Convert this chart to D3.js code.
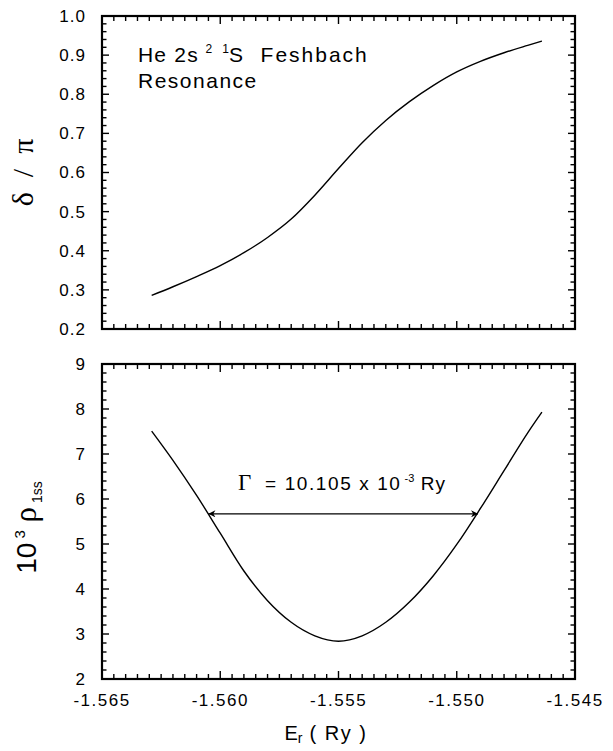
<!DOCTYPE html>
<html>
<head>
<meta charset="utf-8">
<script src="https://cdn.jsdelivr.net/npm/d3@7"></script>
<style>
  body { margin: 0; background: #fff; }
  text { white-space: pre; }
</style>
</head>
<body>
<div id="chart"></div>
<script>
// resonance energy (Ry)
const energy = [-1.5629, -1.562, -1.561, -1.560, -1.559, -1.558, -1.557, -1.556, -1.555,
                -1.554, -1.553, -1.552, -1.551, -1.550, -1.549, -1.548, -1.547, -1.5464]
// delta / pi
const phase = [0.286, 0.308, 0.334, 0.362, 0.395, 0.434, 0.481, 0.542, 0.610,
               0.676, 0.733, 0.781, 0.822, 0.857, 0.884, 0.906, 0.925, 0.936]
// 10^3 rho_1ss
const density = [7.51, 6.86, 6.08, 5.24, 4.40, 3.74, 3.26, 2.96, 2.84,
                 2.96, 3.26, 3.71, 4.29, 4.99, 5.79, 6.63, 7.47, 7.93]

const xTicks = [-1.565, -1.560, -1.555, -1.550, -1.545]
const phaseTicks = [0.2, 0.3, 0.4, 0.5, 0.6, 0.7, 0.8, 0.9, 1.0]
const densityTicks = [2, 3, 4, 5, 6, 7, 8, 9]
// width arrow (half maximum), in Ry and density units
const gammaEnds = [-1.5605, -1.5491]
const gammaLevel = 5.67

const svg_width = 613
const svg_height = 751
const left = 102
const right = 575
const top_panel = [16, 329]
const bottom_panel = [364, 679]

const svg = d3.select('#chart')
    .append('svg')
    .attr('width', svg_width)
    .attr('height', svg_height)
    .style('font-family', '"Liberation Sans", Arial, sans-serif')

const xScale = d3.scaleLinear()
    .domain([xTicks[0], xTicks[xTicks.length - 1]])
    .range([left, right])

const yPhase = d3.scaleLinear()
    .domain([0.2, 1.0])
    .range([top_panel[1], top_panel[0]])

const yDensity = d3.scaleLinear()
    .domain([2, 9])
    .range([bottom_panel[1], bottom_panel[0]])

// minor tick values
const xMinor = d3.range(0, 41).map(i => xTicks[0] + i * 0.0005)
const phaseMinor = d3.range(0, 41).map(i => 0.2 + i * 0.02)
const densityMinor = d3.range(0, 36).map(i => 2 + i * 0.2)

function isMajor (v, ticks) {
    return ticks.some(t => Math.abs(t - v) < 1e-9)
}

function drawPanel (yScale, yTicks, yMinor, yFormat, showX) {
    const [y0, y1] = yScale.range()
    const g = svg.append('g')

    // inward ticks, bottom and top edges
    const xt = xMinor.map(v => ({ v, len: isMajor(v, xTicks) ? 8 : 5 }))
    g.selectAll('.xb')
        .data(xt)
        .join('line')
            .attr('class', 'xb')
            .attr('x1', d => xScale(d.v))
            .attr('x2', d => xScale(d.v))
            .attr('y1', y0)
            .attr('y2', d => y0 - d.len)
            .attr('stroke', '#000')
            .attr('stroke-width', 1.4)
    g.selectAll('.xt')
        .data(xt)
        .join('line')
            .attr('class', 'xt')
            .attr('x1', d => xScale(d.v))
            .attr('x2', d => xScale(d.v))
            .attr('y1', y1)
            .attr('y2', d => y1 + d.len)
            .attr('stroke', '#000')
            .attr('stroke-width', 1.4)

    // inward ticks, left and right edges
    const yt = yMinor.map(v => ({ v, len: isMajor(v, yTicks) ? 7 : 4.5 }))
    g.selectAll('.yl')
        .data(yt)
        .join('line')
            .attr('class', 'yl')
            .attr('x1', left)
            .attr('x2', d => left + d.len)
            .attr('y1', d => yScale(d.v))
            .attr('y2', d => yScale(d.v))
            .attr('stroke', '#000')
            .attr('stroke-width', 1.4)
    g.selectAll('.yr')
        .data(yt)
        .join('line')
            .attr('class', 'yr')
            .attr('x1', right)
            .attr('x2', d => right - d.len)
            .attr('y1', d => yScale(d.v))
            .attr('y2', d => yScale(d.v))
            .attr('stroke', '#000')
            .attr('stroke-width', 1.4)

    // y tick labels
    g.selectAll('.ylab')
        .data(yTicks)
        .join('text')
            .attr('class', 'ylab')
            .text(yFormat)
            .attr('x', left - 16)
            .attr('y', d => yScale(d))
            .attr('dy', '0.35em')
            .attr('text-anchor', 'end')
            .attr('font-size', '17px')
            .attr('letter-spacing', '1px')
            .attr('fill', '#000')

    if (showX) {
        g.selectAll('.xlab')
            .data(xTicks)
            .join('text')
                .attr('class', 'xlab')
                .text(d => d.toFixed(3))
                .attr('x', d => xScale(d))
                .attr('y', y0 + 21)
                .attr('dy', '0.35em')
                .attr('text-anchor', 'middle')
                .attr('font-size', '17px')
                .attr('letter-spacing', '1.5px')
                .attr('fill', '#000')
    }

    // frame
    g.append('rect')
        .attr('x', left)
        .attr('y', y1)
        .attr('width', right - left)
        .attr('height', y0 - y1)
        .attr('fill', 'none')
        .attr('stroke', '#000')
        .attr('stroke-width', 2.2)
}

drawPanel(yPhase, phaseTicks, phaseMinor, d => d.toFixed(1), false)
drawPanel(yDensity, densityTicks, densityMinor, d => d.toFixed(0), true)

// curves
const phaseLine = d3.line()
    .x((d, i) => xScale(energy[i]))
    .y(d => yPhase(d))
    .curve(d3.curveMonotoneX)

const densityLine = d3.line()
    .x((d, i) => xScale(energy[i]))
    .y(d => yDensity(d))
    .curve(d3.curveMonotoneX)

svg.append('path')
    .attr('d', phaseLine(phase))
    .attr('fill', 'none')
    .attr('stroke', '#000')
    .attr('stroke-width', 1.4)

svg.append('path')
    .attr('d', densityLine(density))
    .attr('fill', 'none')
    .attr('stroke', '#000')
    .attr('stroke-width', 1.4)

// helper for text with super / subscripts
function richText (x, y, parts, anchor) {
    const t = svg.append('text')
        .attr('x', x)
        .attr('y', y)
        .attr('text-anchor', anchor || 'start')
        .attr('fill', '#000')
    let shift = 0
    parts.forEach(p => {
        const target = p.shift || 0
        const ts = t.append('tspan')
            .text(p.t)
            .attr('dy', target - shift)
            .attr('font-size', p.size + 'px')
        if (p.family) ts.attr('font-family', p.family)
        if (p.ls) ts.attr('letter-spacing', p.ls + 'px')
        shift = target
    })
    return t
}

const serif = '"Liberation Serif", "Times New Roman", serif'

// panel title
richText(138, 62, [
    { t: 'He 2s', size: 21, ls: 1.2 },
    { t: '  2', size: 12, shift: -9 },
    { t: '   1', size: 12, shift: -9 },
    { t: 'S  Feshbach', size: 21, ls: 2 }
])
richText(138, 88, [{ t: 'Resonance', size: 21, ls: 1.5 }])

// width annotation
svg.append('defs').append('marker')
    .attr('id', 'head')
    .attr('viewBox', '0 0 10 10')
    .attr('refX', 10)
    .attr('refY', 5)
    .attr('markerWidth', 11)
    .attr('markerHeight', 7)
    .attr('markerUnits', 'userSpaceOnUse')
    .attr('orient', 'auto-start-reverse')
    .append('path')
    .attr('d', 'M0,0 L10,5 L0,10 L3,5 Z')
    .attr('fill', '#000')

svg.append('line')
    .attr('x1', xScale(gammaEnds[0]))
    .attr('x2', xScale(gammaEnds[1]))
    .attr('y1', yDensity(gammaLevel))
    .attr('y2', yDensity(gammaLevel))
    .attr('stroke', '#000')
    .attr('stroke-width', 1.3)
    .attr('marker-start', 'url(#head)')
    .attr('marker-end', 'url(#head)')

richText(238, 490, [
    { t: 'Γ', size: 23, family: serif },
    { t: '  = 10.105 x 10', size: 19, ls: 1.6 },
    { t: ' -3', size: 11, shift: -8 },
    { t: ' Ry', size: 19, ls: 1 }
])

// axis titles
richText(0, 0, [
    { t: 'δ  /  π', size: 30, family: serif }
], 'middle').attr('transform', `translate(33,${(top_panel[0] + top_panel[1]) / 2}) rotate(-90)`)

richText(0, 0, [
    { t: '10', size: 28 },
    { t: ' 3', size: 15, shift: -11 },
    { t: ' ρ', size: 31, family: serif },
    { t: ' 1ss', size: 14, shift: 6 }
], 'middle').attr('transform', `translate(36,${(bottom_panel[0] + bottom_panel[1]) / 2 + 6}) rotate(-90)`)

richText(326, 740, [
    { t: 'E', size: 20 },
    { t: 'r', size: 14, shift: 3 },
    { t: ' ( Ry )', size: 20, ls: 1.5 }
], 'middle')
</script>
</body>
</html>
